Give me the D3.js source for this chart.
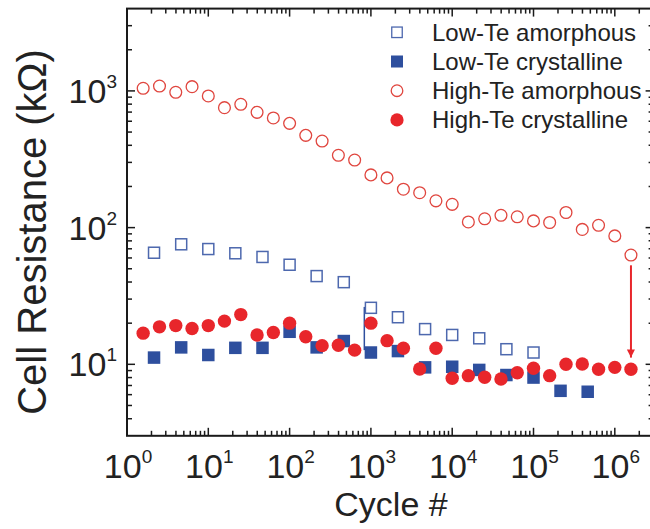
<!DOCTYPE html>
<html>
<head>
<meta charset="utf-8">
<script src="https://cdn.jsdelivr.net/npm/d3@7"></script>
<style>
  body { margin: 0; background: #fff; }
  svg { display: block; font-family: "Liberation Sans", Arial, sans-serif; }
</style>
</head>
<body>
<svg width="650" height="529"></svg>
<script>
// cycle numbers (x) for each series
const highTeCycles = [1.58, 2.51, 3.98, 6.31, 10, 15.8, 25.1, 39.8, 63.1, 100,
  158, 251, 398, 631, 1000, 1580, 2510, 3980, 6310, 1e4,
  1.58e4, 2.51e4, 3.98e4, 6.31e4, 1e5, 1.58e5, 2.51e5, 3.98e5, 6.31e5, 1e6, 1.58e6];
const lowTeCycles = [2.15, 4.64, 10, 21.5, 46.4, 100, 215, 464, 1000, 2150,
  4640, 1e4, 2.15e4, 4.64e4, 1e5, 2.15e5, 4.64e5];

// resistances in kOhm
const highTeAmorphous = [1045, 1086, 977, 1074, 918, 754, 798, 697, 634, 579,
  473, 430, 338, 312, 243, 231, 191, 180, 157, 148,
  110, 116, 123, 120, 112, 109, 129, 97, 104, 87, 63];
const highTeCrystalline = [16.9, 18.8, 19.2, 18.3, 19.2, 20.7, 23.1, 16.4, 17.1, 20.0,
  15.9, 13.7, 13.8, 12.7, 20.0, 14.9, 13.1, 9.24, 13.1, 7.9,
  8.26, 8.04, 7.8, 8.68, 9.35, 8.26, 10.0, 10.05, 9.2, 9.5, 9.2];
const lowTeAmorphous = [65.5, 75.5, 69.7, 64.9, 61, 53.5, 44.2, 39.9, 25.9, 22.1,
  18.1, 16.4, 15.5, 12.9, 12.2];
const lowTeCrystalline = [11.2, 13.3, 11.7, 13.2, 13.2, 17.3, 13.3, 14.8, 12.2, 12.5,
  9.5, 9.6, 9.1, 8.35, 8.0, 6.4, 6.3];

// stray blue segment near 10^3 and the red arrow
const blueSegment = [{x: 830, y: 26.3}, {x: 830, y: 12.7}];
const arrowPts = [{x: 1.58e6, y: 53}, {x: 1.58e6, y: 11.2}];

const xTicks = [1, 10, 100, 1e3, 1e4, 1e5, 1e6];
const yTicks = [10, 100, 1000];

const legendItems = [
  {label: "Low-Te amorphous", shape: "square", filled: false},
  {label: "Low-Te crystalline", shape: "square", filled: true},
  {label: "High-Te amorphous", shape: "circle", filled: false},
  {label: "High-Te crystalline", shape: "circle", filled: true}
];

const red = "#e8262b", redLine = "#e0463f", blue = "#2e4f9e", blueLine = "#4d68ae";

const svg = d3.select("svg");
const margin = {left: 127, top: 8.6};
const w = 526.6, h = 427.2;

const x = d3.scaleLog().domain([1, 3e6]).range([0, w]);
const y = d3.scaleLog().domain([3, 4000]).range([h, 0]);

const g = svg.append("g").attr("transform", `translate(${margin.left},${margin.top})`);

// minor tick values
function minors(lo, hi) {
  const out = [];
  for (let e = lo; e < hi; e++) {
    for (let m = 2; m <= 9; m++) out.push(m * Math.pow(10, e));
  }
  return out;
}
const xMinor = minors(0, 7).filter(v => { return v < 3e6; });
const yMinor = minors(0, 4).filter(v => { return v > 3 && v < 4000; });

function tickLines(sel, vals, scale, len, horiz, base, dir) {
  sel.selectAll(null)
      .data(vals)
      .enter().append("line")
      .attr("x1", d => { return horiz ? scale(d) : base; })
      .attr("x2", d => { return horiz ? scale(d) : base + dir * len; })
      .attr("y1", d => { return horiz ? base : scale(d); })
      .attr("y2", d => { return horiz ? base + dir * len : scale(d); })
      .attr("stroke", "#1a1a1a")
      .attr("stroke-width", 1.5);
}

const frame = g.append("g").attr("class", "frame");
frame.append("rect")
    .attr("width", w).attr("height", h)
    .attr("fill", "none")
    .attr("stroke", "#1a1a1a")
    .attr("stroke-width", 2);

// inward ticks on all four sides
tickLines(frame, xTicks, x, 8, true, h, -1);
tickLines(frame, xMinor, x, 5, true, h, -1);
tickLines(frame, xTicks, x, 8, true, 0, 1);
tickLines(frame, xMinor, x, 5, true, 0, 1);
tickLines(frame, yTicks, y, 8, false, 0, 1);
tickLines(frame, yMinor, y, 5, false, 0, 1);
tickLines(frame, yTicks, y, 8, false, w, -1);
tickLines(frame, yMinor, y, 5, false, w, -1);

// tick labels 10^n
const xl = g.append("g").selectAll("text")
    .data(xTicks)
    .enter().append("text")
    .attr("x", d => { return x(d) + 1; })
    .attr("y", 469)
    .attr("text-anchor", "middle")
    .attr("fill", "#222")
    .style("font-size", "34px");
xl.append("tspan").text("10");
xl.append("tspan").attr("dy", -15).style("font-size", "19px").text(d => { return Math.round(Math.log10(d)); });

const yl = g.append("g").selectAll("text")
    .data(yTicks)
    .enter().append("text")
    .attr("x", -10)
    .attr("y", d => { return y(d) + 12; })
    .attr("text-anchor", "end")
    .attr("fill", "#222")
    .style("font-size", "34px");
yl.append("tspan").text("10");
yl.append("tspan").attr("dy", -15).style("font-size", "19px").text(d => { return Math.round(Math.log10(d)); });

// axis titles
svg.append("text")
    .attr("transform", "translate(46,232) rotate(-90)")
    .attr("text-anchor", "middle")
    .attr("fill", "#222")
    .style("font-size", "40px")
    .text("Cell Resistance (kΩ)");

svg.append("text")
    .attr("x", 391)
    .attr("y", 516)
    .attr("text-anchor", "middle")
    .attr("fill", "#222")
    .style("font-size", "34px")
    .text("Cycle #");

// stray segment + arrow
const line = d3.line().x(d => { return x(d.x); }).y(d => { return y(d.y); });
g.append("path")
    .attr("d", line(blueSegment))
    .attr("stroke", blue)
    .attr("stroke-width", 1.5)
    .attr("fill", "none");

svg.append("defs").append("marker")
    .attr("id", "head")
    .attr("viewBox", "0 0 10 10")
    .attr("refX", 10).attr("refY", 5)
    .attr("markerWidth", 5).attr("markerHeight", 4)
    .attr("markerUnits", "strokeWidth")
    .attr("orient", "auto")
  .append("path")
    .attr("d", "M0,0L10,5L0,10Z")
    .attr("fill", red);

g.append("path")
    .attr("d", line(arrowPts))
    .attr("stroke", red)
    .attr("stroke-width", 2)
    .attr("fill", "none")
    .attr("marker-end", "url(#head)");

// series
const sq = 12.5, r = 6.5;

g.append("g").selectAll("rect")
    .data(lowTeCycles.slice(0, lowTeAmorphous.length))
    .enter().append("rect")
    .attr("x", d => { return x(d) - sq / 2 + 0.75; })
    .attr("y", (d, i) => { return y(lowTeAmorphous[i]) - sq / 2 + 0.75; })
    .attr("width", sq - 1.5).attr("height", sq - 1.5)
    .attr("fill", "none")
    .attr("stroke", blueLine)
    .attr("stroke-width", 1.5);

g.append("g").selectAll("rect")
    .data(lowTeCycles)
    .enter().append("rect")
    .attr("x", d => { return x(d) - sq / 2; })
    .attr("y", (d, i) => { return y(lowTeCrystalline[i]) - sq / 2; })
    .attr("width", sq).attr("height", sq)
    .attr("fill", blue);

g.append("g").selectAll("circle")
    .data(highTeCycles)
    .enter().append("circle")
    .attr("cx", d => { return x(d); })
    .attr("cy", (d, i) => { return y(highTeAmorphous[i]); })
    .attr("r", r - 0.6)
    .attr("fill", "none")
    .attr("stroke", redLine)
    .attr("stroke-width", 1.3);

g.append("g").selectAll("circle")
    .data(highTeCycles)
    .enter().append("circle")
    .attr("cx", d => { return x(d); })
    .attr("cy", (d, i) => { return y(highTeCrystalline[i]); })
    .attr("r", r + 0.2)
    .attr("fill", red);

// legend
const leg = svg.append("g").selectAll("g")
    .data(legendItems)
    .enter().append("g")
    .attr("transform", (d, i) => { return `translate(397,${32.3 + i * 29.2})`; });

leg.each(function(d) {
  const s = d3.select(this);
  if (d.shape === "square") {
    const k = d.filled ? 12 : 10.5;
    s.append("rect")
        .attr("x", -k / 2).attr("y", -k / 2)
        .attr("width", k).attr("height", k)
        .attr("fill", d.filled ? blue : "none")
        .attr("stroke", d.filled ? "none" : blueLine)
        .attr("stroke-width", 1.3);
  } else {
    s.append("circle")
        .attr("r", d.filled ? 6.6 : 5.8)
        .attr("fill", d.filled ? red : "none")
        .attr("stroke", d.filled ? "none" : redLine)
        .attr("stroke-width", 1.3);
  }
});

leg.append("text")
    .attr("x", 35)
    .attr("y", 8.5)
    .attr("fill", "#222")
    .style("font-size", "24px")
    .text(d => { return d.label; });
</script>
</body>
</html>
